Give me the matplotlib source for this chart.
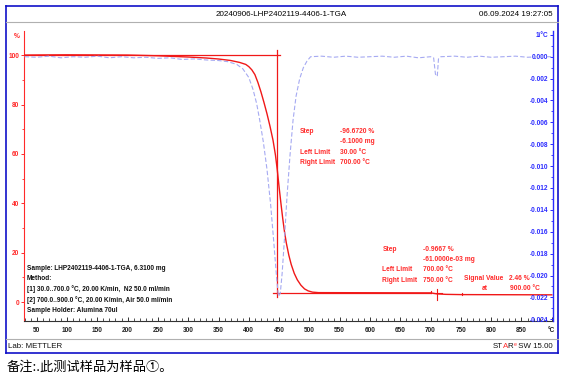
import matplotlib
matplotlib.use('Agg')
import matplotlib.pyplot as plt
from matplotlib.lines import Line2D
import numpy as np

# 字体
plt.rcParams['font.family'] = ['Liberation Sans', 'DejaVu Sans']
plt.rcParams['axes.unicode_minus'] = False

RED = '#ff2a2a'
CURVE_RED = '#f01818'
BLUE = '#2a2aff'
DTG_BLUE = '#a6aaf2'

# TGA 曲线 (温度 °C, 质量 %)
tga_temp = [30, 60, 100, 150, 200, 250, 300, 330, 350, 370, 385, 395, 400, 405, 410,
            415, 420, 425, 430, 435, 440, 444, 447, 450, 453, 456, 459, 462, 466, 470,
            475, 480, 486, 492, 498, 505, 515, 600, 700, 710, 725, 750, 900]
tga_mass = [100.1, 100.15, 100.2, 100.15, 100.1, 99.8, 99.3, 98.9, 98.5, 97.9, 97.1,
            96.3, 95.4, 94.1, 92.2, 89.0, 85.2, 80.9, 76.3, 71.2, 65.5, 59.5, 53.5,
            46.5, 40.0, 33.8, 28.3, 23.8, 19.0, 15.2, 11.6, 9.0, 6.8, 5.3, 4.5, 4.0,
            3.8, 3.75, 3.7, 3.3, 3.1, 3.0, 2.9]

# DTG 曲线 (温度 °C, 1/°C 乘以 1e-3)
dtg_temp = [30, 50, 70, 90, 110, 130, 150, 170, 190, 210, 230, 250, 270, 290, 310,
            330, 350, 365, 380, 390, 400, 407, 413, 418, 424, 430, 436, 441, 446,
            449, 452, 455, 459, 463, 468, 473, 478, 484, 490, 496, 502, 520, 540,
            560, 580, 600, 620, 640, 660, 680, 700, 705, 708, 711, 713, 717, 740,
            760, 780, 800, 820, 840, 860, 880, 900]
dtg_val = [0.0, -0.05, 0.05, -0.1, 0.0, -0.05, 0.05, -0.1, 0.0, -0.1, -0.05, -0.15,
           -0.1, -0.25, -0.2, -0.3, -0.35, -0.45, -0.7, -1.1, -1.9, -3.0, -4.3, -5.8,
           -7.8, -10.3, -13.5, -16.8, -20.3, -21.9, -21.6, -19.8, -16.5, -12.8, -9.0,
           -5.8, -3.6, -2.0, -1.0, -0.4, 0.0, 0.05, -0.05, 0.05, -0.05, 0.0, 0.05,
           -0.05, 0.05, -0.1, 0.0, -0.1, -1.6, -1.8, -0.2, 0.0, 0.05, -0.05, 0.05,
           -0.05, 0.0, 0.05, -0.05, 0.0, 0.0]

x_ticks = [50, 100, 150, 200, 250, 300, 350, 400, 450, 500, 550, 600, 650, 700, 750, 800, 850, 900]
x_labels = [str(t) for t in x_ticks[:-1]] + ['°C']
left_ticks = [0, 20, 40, 60, 80, 100]
right_ticks = [-0.024, -0.022, -0.020, -0.018, -0.016, -0.014, -0.012, -0.010,
               -0.008, -0.006, -0.004, -0.002, 0.000, 0.002]
right_labels = ['%.3f' % v for v in right_ticks[:-1]] + ['1/°C']

W, H = 565, 378
fig = plt.figure(figsize=(W / 100, H / 100), dpi=100)


def px(x, y):
    return x / W, 1 - y / H


l, b = px(24, 320.7)
r, t = px(552.7, 31)
ax = fig.add_axes([l, b, r - l, t - b])
ax2 = ax.twinx()

ax.plot(tga_temp, tga_mass, color=CURVE_RED, lw=1.0, zorder=3)
ax2.plot(dtg_temp, np.array(dtg_val) * 1e-3, color=DTG_BLUE, lw=0.8,
         dashes=(4, 2), zorder=2)

# 台阶标记线
ax.plot([29, 452], [100, 100], color=CURVE_RED, lw=0.9)
ax.plot([446, 446], [102.1, 2.1], color=CURVE_RED, lw=0.9)
ax.plot([440, 700], [3.8, 3.8], color=CURVE_RED, lw=0.9)
ax.plot([704, 718], [3.5, 3.5], color=CURVE_RED, lw=0.8)
ax.plot([710, 710], [5.3, 0.8], color=CURVE_RED, lw=0.8)
ax.plot([700, 700], [4.6, 3.8], color=CURVE_RED, lw=0.8)
ax.plot([751, 751], [3.6, 2.8], color=CURVE_RED, lw=0.8)

ax.set_xlim(29, 901.5)
ax.set_ylim(-7.58, 109.85)
ax2.set_ylim(-0.02413, 0.00235)

ax.spines['top'].set_visible(False)
ax2.spines['top'].set_visible(False)
ax.spines['left'].set_color(RED)
ax.spines['bottom'].set_color('#333333')
ax.spines['right'].set_visible(False)
ax2.spines['left'].set_visible(False)
ax2.spines['bottom'].set_visible(False)
ax2.spines['right'].set_color(BLUE)
ax2.spines['right'].set_linewidth(1.0)

TICK_FS = 4.7
ax.set_xticks(x_ticks)
ax.set_xticklabels(x_labels)
ax.set_xticks(np.arange(30, 901, 10), minor=True)
ax.tick_params(axis='x', which='major', direction='in', length=3, width=0.7,
               color='#333333', pad=4.5, labelsize=TICK_FS, labelcolor='#222222')
ax.tick_params(axis='x', which='minor', direction='in', length=2, width=0.6,
               color='#333333')

ax.set_yticks(left_ticks)
ax.set_yticks(np.arange(0, 101, 10), minor=True)
ax.tick_params(axis='y', which='major', direction='out', length=2.5, width=0.7,
               color=RED, pad=1, labelsize=TICK_FS, labelcolor=RED)
ax.tick_params(axis='y', which='minor', direction='out', length=1.8, width=0.6, color=RED)

ax2.set_yticks(right_ticks)
ax2.set_yticklabels(right_labels)
ax2.set_yticks(np.arange(-0.024, 0.0021, 0.001), minor=True)
ax2.tick_params(axis='y', which='major', direction='in', length=2.5, width=0.7,
                color=BLUE, pad=-3, labelsize=TICK_FS, labelcolor=BLUE)
ax2.tick_params(axis='y', which='minor', direction='in', length=1.8, width=0.6, color=BLUE)
for lab in ax2.get_yticklabels():
    lab.set_ha('right')

for lab in ax.get_xticklabels() + ax.get_yticklabels() + ax2.get_yticklabels():
    lab.set_fontweight('bold')


def txt(x, y, s, **kw):
    fx, fy = px(x, y)
    kw.setdefault('va', 'center')
    kw.setdefault('fontsize', 4.8)
    return fig.text(fx, fy, s, **kw)


# 标题栏
txt(281, 14, '20240906-LHP2402119-4406-1-TGA', ha='center', fontsize=5.8)
txt(553, 14, '06.09.2024 19:27:05', ha='right', fontsize=5.8)
txt(16.5, 36, '%', ha='center', color=RED, fontweight='bold')

# 第一个台阶
step1 = [('Step', '-96.6720 %'), ('', '-6.1000 mg'),
         ('Left Limit', '30.00 °C'), ('Right Limit', '700.00 °C')]
for i, (a, v) in enumerate(step1):
    y = 131.7 + i * 10.3
    txt(300, y, a, color=RED, fontweight='bold')
    txt(339.5, y, v, color=RED, fontweight='bold')

# 第二个台阶
step2 = [('Step', '-0.9667 %'), ('', '-61.0000e-03 mg'),
         ('Left Limit', '700.00 °C'), ('Right Limit', '750.00 °C')]
for i, (a, v) in enumerate(step2):
    y = 249.3 + i * 10.3
    txt(382.3, y, a, color=RED, fontweight='bold')
    txt(422.7, y, v, color=RED, fontweight='bold')

txt(464.3, 278.3, 'Signal Value', color=RED, fontweight='bold')
txt(509.3, 278.3, '2.46 %', color=RED, fontweight='bold')
txt(482, 289, 'at', color=RED, fontweight='bold')
txt(510, 289, '900.00 °C', color=RED, fontweight='bold')

# 样品信息
sample = ['Sample: LHP2402119-4406-1-TGA, 6.3100 mg', 'Method:',
          '[1] 30.0..700.0 °C, 20.00 K/min,  N2 50.0 ml/min',
          '[2] 700.0..900.0 °C, 20.00 K/min, Air 50.0 ml/min',
          'Sample Holder: Alumina 70ul']
for i, s in enumerate(sample):
    txt(26.7, 268.3 + i * 10.6, s, color='#111111', fontweight='bold', fontsize=4.7)

# 底栏
txt(7.5, 347, 'Lab: METTLER', fontsize=5.7, color='#111111')
fig.canvas.draw()
renderer = fig.canvas.get_renderer()
parts = [(' SW 15.00', '#111111', 5.7, 347), ('e', RED, 3.8, 345), ('R', '#111111', 5.7, 347),
         ('A', RED, 5.7, 347), ('ST', '#111111', 5.7, 347)]
xr = 553
for s, c, fs, y in parts:
    tt = txt(xr, y, s, ha='right', fontsize=fs, color=c)
    bb = tt.get_window_extent(renderer)
    xr -= bb.width

# 外框和分隔线
frame = dict(color='#1010c8', lw=1.2, transform=fig.transFigure)
for (x0, y0), (x1, y1) in [((6, 6), (557.5, 6)), ((557.5, 6), (557.5, 353)),
                           ((557.5, 353), (6, 353)), ((6, 353), (6, 6))]:
    a0, b0 = px(x0, y0)
    a1, b1 = px(x1, y1)
    fig.add_artist(Line2D([a0, a1], [b0, b1], **frame))
for y in [22, 339]:
    a0, b0 = px(6, y)
    a1, b1 = px(557.5, y)
    fig.add_artist(Line2D([a0, a1], [b0, b1], color='#b0b0b0', lw=0.8,
                          transform=fig.transFigure))

# 脚注
txt(7, 367, '备注:.此测试样品为样品①。', fontsize=9.5,
    family=['Noto Sans CJK SC', 'DejaVu Sans'], color='black')

fig.savefig('out.png', dpi=100)
